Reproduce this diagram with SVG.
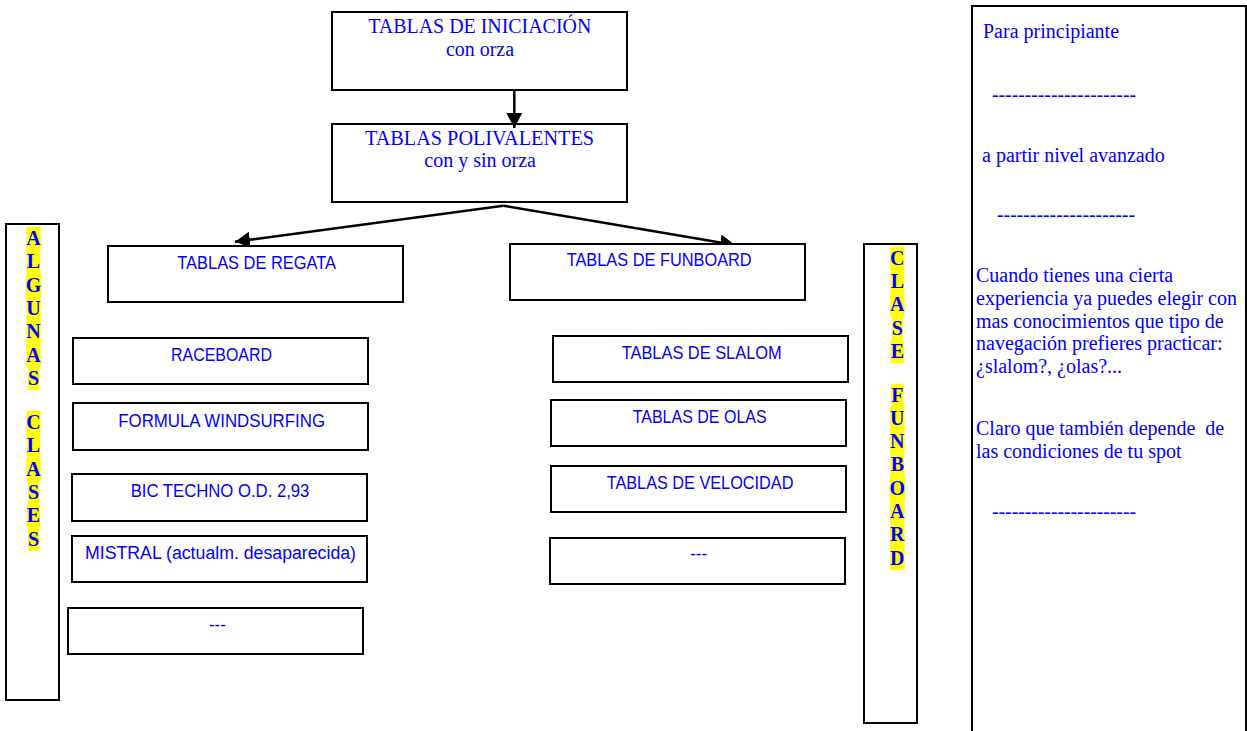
<svg xmlns="http://www.w3.org/2000/svg" width="1247" height="731" viewBox="0 0 1247 731">
  <style>
    .box { fill: #ffffff; stroke: #000000; stroke-width: 2; }
    .serif { font-family: "Liberation Serif", "Times New Roman", serif; font-size: 20px; fill: #0000ff; }
    .sans { font-family: "Liberation Sans", Arial, sans-serif; font-size: 18px; fill: #0000ff; }
    .vert { font-family: "Liberation Serif", "Times New Roman", serif; font-size: 20px; font-weight: bold; fill: #0000ff; text-anchor: middle; }
    .hl { fill: #ffff00; }
    .conn { fill: none; stroke: #000000; stroke-width: 2.5; }
  </style>
  <defs>
    <marker id="arrow" markerUnits="userSpaceOnUse" markerWidth="17" markerHeight="17" refX="15" refY="8" orient="auto">
      <path d="M0,0 L15,8 L0,16 Z" fill="#000000"/>
    </marker>
  </defs>
  <rect x="0" y="0" width="1247" height="731" fill="#ffffff"/>

  <g id="iniciacion">
    <rect class="box" x="332" y="12" width="295" height="78"/>
    <text class="serif" x="368.3" y="33.3" textLength="223" lengthAdjust="spacingAndGlyphs">TABLAS DE INICIACIÓN</text>
    <text class="serif" x="446" y="55.5" textLength="68" lengthAdjust="spacingAndGlyphs">con orza</text>
  </g>

  <g id="polivalentes">
    <rect class="box" x="332" y="124" width="295" height="78"/>
    <text class="serif" x="365" y="145" textLength="229" lengthAdjust="spacingAndGlyphs">TABLAS POLIVALENTES</text>
    <text class="serif" x="424.3" y="167.3" textLength="111.7" lengthAdjust="spacingAndGlyphs">con y sin orza</text>
  </g>

  <g id="connectors">
    <path class="conn" d="M514.3,90 L514.3,128" marker-end="url(#arrow)"/>
    <path class="conn" d="M503.3,205.7 L235,241.7" marker-end="url(#arrow)"/>
    <path class="conn" d="M503.3,205.7 L735,245" marker-end="url(#arrow)"/>
  </g>

  <g id="regata">
    <rect class="box" x="108" y="246" width="295" height="56"/>
    <text class="sans" x="177.3" y="269" textLength="158.7" lengthAdjust="spacingAndGlyphs">TABLAS DE REGATA</text>
  </g>

  <g id="funboard">
    <rect class="box" x="510" y="244" width="295" height="56"/>
    <text class="sans" x="566.7" y="266" textLength="185" lengthAdjust="spacingAndGlyphs">TABLAS DE FUNBOARD</text>
  </g>

  <g id="raceboard">
    <rect class="box" x="73" y="338" width="295" height="46"/>
    <text class="sans" x="171" y="361" textLength="101" lengthAdjust="spacingAndGlyphs">RACEBOARD</text>
  </g>

  <g id="formula">
    <rect class="box" x="73" y="403" width="295" height="47"/>
    <text class="sans" x="118.3" y="427" textLength="206.7" lengthAdjust="spacingAndGlyphs">FORMULA WINDSURFING</text>
  </g>

  <g id="bictechno">
    <rect class="box" x="72" y="474" width="295" height="47"/>
    <text class="sans" x="130.7" y="497" textLength="178.7" lengthAdjust="spacingAndGlyphs">BIC TECHNO O.D. 2,93</text>
  </g>

  <g id="mistral">
    <rect class="box" x="72" y="536" width="295" height="46"/>
    <text class="sans" x="85" y="559.3" textLength="271" lengthAdjust="spacingAndGlyphs">MISTRAL (actualm. desaparecida)</text>
  </g>

  <g id="regata-more">
    <rect class="box" x="68" y="608" width="295" height="46"/>
    <text class="sans" x="209" y="631" textLength="16.7" lengthAdjust="spacingAndGlyphs">---</text>
  </g>

  <g id="slalom">
    <rect class="box" x="553" y="336" width="295" height="46"/>
    <text class="sans" x="621.7" y="358.5" textLength="160" lengthAdjust="spacingAndGlyphs">TABLAS DE SLALOM</text>
  </g>

  <g id="olas">
    <rect class="box" x="551" y="400" width="295" height="46"/>
    <text class="sans" x="632.7" y="423" textLength="134" lengthAdjust="spacingAndGlyphs">TABLAS DE OLAS</text>
  </g>

  <g id="velocidad">
    <rect class="box" x="551" y="466" width="295" height="46"/>
    <text class="sans" x="606.7" y="488.5" textLength="186.7" lengthAdjust="spacingAndGlyphs">TABLAS DE VELOCIDAD</text>
  </g>

  <g id="funboard-more">
    <rect class="box" x="550" y="538" width="295" height="46"/>
    <text class="sans" x="690" y="560" textLength="17.3" lengthAdjust="spacingAndGlyphs">---</text>
  </g>

  <g id="algunas-clases">
    <rect class="box" x="6" y="224" width="53" height="476"/>
    <rect class="hl" x="26.3" y="227" width="14.4" height="23.3"/>
    <rect class="hl" x="26.8" y="250.3" width="13.3" height="23.3"/>
    <rect class="hl" x="25.7" y="273.6" width="15.6" height="23.3"/>
    <rect class="hl" x="26.3" y="296.9" width="14.4" height="23.3"/>
    <rect class="hl" x="26.3" y="320.2" width="14.4" height="23.3"/>
    <rect class="hl" x="26.3" y="343.5" width="14.4" height="23.3"/>
    <rect class="hl" x="27.9" y="366.8" width="11.1" height="23.3"/>
    <rect class="hl" x="26.3" y="411" width="14.4" height="23.3"/>
    <rect class="hl" x="26.8" y="434.3" width="13.3" height="23.3"/>
    <rect class="hl" x="26.3" y="457.6" width="14.4" height="23.3"/>
    <rect class="hl" x="27.9" y="480.9" width="11.1" height="23.3"/>
    <rect class="hl" x="26.8" y="504.2" width="13.3" height="23.3"/>
    <rect class="hl" x="27.9" y="527.5" width="11.1" height="23.3"/>
    <text class="vert" x="33.5" y="245">A</text>
    <text class="vert" x="33.5" y="268.3">L</text>
    <text class="vert" x="33.5" y="291.6">G</text>
    <text class="vert" x="33.5" y="314.9">U</text>
    <text class="vert" x="33.5" y="338.2">N</text>
    <text class="vert" x="33.5" y="361.5">A</text>
    <text class="vert" x="33.5" y="384.8">S</text>
    <text class="vert" x="33.5" y="429">C</text>
    <text class="vert" x="33.5" y="452.3">L</text>
    <text class="vert" x="33.5" y="475.6">A</text>
    <text class="vert" x="33.5" y="498.9">S</text>
    <text class="vert" x="33.5" y="522.2">E</text>
    <text class="vert" x="33.5" y="545.5">S</text>
  </g>

  <g id="clase-funboard">
    <rect class="box" x="864" y="244" width="53" height="479"/>
    <rect class="hl" x="890.1" y="247" width="14.4" height="23.3"/>
    <rect class="hl" x="890.6" y="270.3" width="13.3" height="23.3"/>
    <rect class="hl" x="890.1" y="293.6" width="14.4" height="23.3"/>
    <rect class="hl" x="891.7" y="316.9" width="11.1" height="23.3"/>
    <rect class="hl" x="890.6" y="340.2" width="13.3" height="23.3"/>
    <rect class="hl" x="891.2" y="383.7" width="12.2" height="23.3"/>
    <rect class="hl" x="890.1" y="407" width="14.4" height="23.3"/>
    <rect class="hl" x="890.1" y="430.3" width="14.4" height="23.3"/>
    <rect class="hl" x="890.6" y="453.6" width="13.3" height="23.3"/>
    <rect class="hl" x="889.5" y="476.9" width="15.6" height="23.3"/>
    <rect class="hl" x="890.1" y="500.2" width="14.4" height="23.3"/>
    <rect class="hl" x="890.1" y="523.5" width="14.4" height="23.3"/>
    <rect class="hl" x="890.1" y="546.8" width="14.4" height="23.3"/>
    <text class="vert" x="897.3" y="264.8">C</text>
    <text class="vert" x="897.3" y="288.1">L</text>
    <text class="vert" x="897.3" y="311.4">A</text>
    <text class="vert" x="897.3" y="334.7">S</text>
    <text class="vert" x="897.3" y="358">E</text>
    <text class="vert" x="897.3" y="401.5">F</text>
    <text class="vert" x="897.3" y="424.8">U</text>
    <text class="vert" x="897.3" y="448.1">N</text>
    <text class="vert" x="897.3" y="471.4">B</text>
    <text class="vert" x="897.3" y="494.7">O</text>
    <text class="vert" x="897.3" y="518">A</text>
    <text class="vert" x="897.3" y="541.3">R</text>
    <text class="vert" x="897.3" y="564.6">D</text>
  </g>

  <g id="notes">
    <rect class="box" x="972" y="6" width="274" height="740"/>
    <text class="serif" x="983" y="38">Para principiante</text>
    <text class="serif" x="992" y="101" textLength="144" lengthAdjust="spacingAndGlyphs">----------------------</text>
    <text class="serif" x="982" y="162">a partir nivel avanzado</text>
    <text class="serif" x="997" y="221" textLength="138" lengthAdjust="spacingAndGlyphs">---------------------</text>
    <text class="serif" x="976" y="282">Cuando tienes una cierta</text>
    <text class="serif" x="976" y="304.8">experiencia ya puedes elegir con</text>
    <text class="serif" x="976" y="327.6">mas conocimientos que tipo de</text>
    <text class="serif" x="976" y="350.4">navegación prefieres practicar:</text>
    <text class="serif" x="976" y="373.2">¿slalom?, ¿olas?...</text>
    <text class="serif" x="976" y="435" style="white-space:pre">Claro que también depende  de</text>
    <text class="serif" x="976" y="457.8">las condiciones de tu spot</text>
    <text class="serif" x="992" y="518" textLength="144" lengthAdjust="spacingAndGlyphs">----------------------</text>
  </g>
</svg>
